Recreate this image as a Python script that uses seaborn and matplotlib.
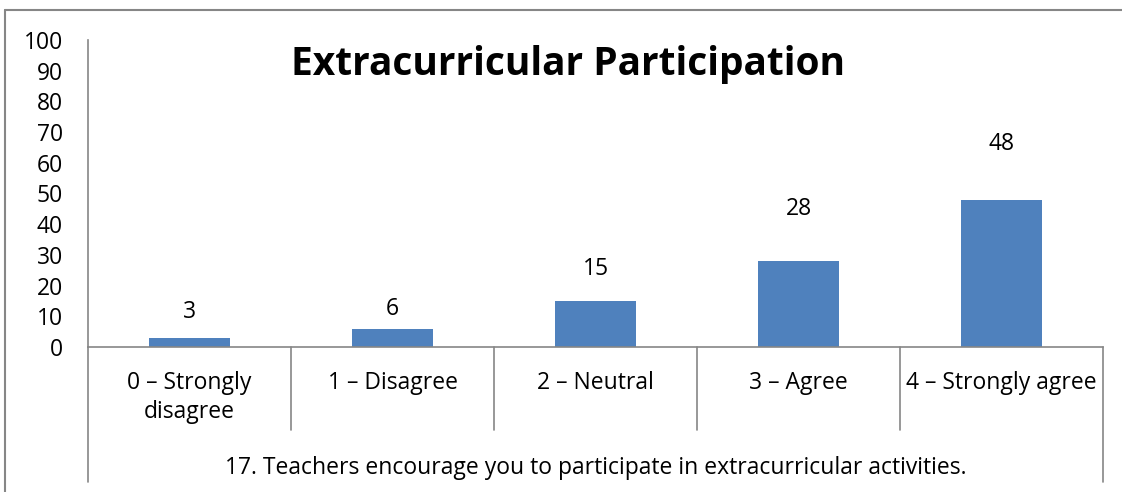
import matplotlib
matplotlib.use('Agg')
import matplotlib.pyplot as plt
import matplotlib.transforms as mtransforms
from matplotlib.lines import Line2D
import seaborn as sns
import pandas as pd

# chart data
categories = ["0 – Strongly\ndisagree", "1 – Disagree", "2 – Neutral", "3 – Agree", "4 – Strongly agree"]
counts = [3, 6, 15, 28, 48]
group_label = "17. Teachers encourage you to participate in extracurricular activities."
title = "Extracurricular Participation"
y_ticks = list(range(0, 101, 10))

sns.set_style("white")
plt.rcParams['font.family'] = ['Open Sans', 'DejaVu Sans']
plt.rcParams['text.color'] = 'black'

df = pd.DataFrame({'category': categories, 'count': counts})

fig = plt.figure(figsize=(11.22, 4.92), dpi=100)
ax = fig.add_axes([88 / 1122, 145 / 492, 1015 / 1122, 307 / 492])

sns.barplot(x='category', y='count', data=df, ax=ax, color='#4F81BD',
            width=0.4, saturation=1, edgecolor='none')

axis_grey = '#868686'
fs = 16.5
ax.set_xlim(-0.5, len(categories) - 0.5)
ax.set_ylim(0, 100)
ax.set_yticks(y_ticks)
ax.tick_params(axis='y', length=6, width=1, color=axis_grey, labelcolor='black',
               labelsize=fs, pad=12)
ax.tick_params(axis='x', length=0, labelsize=fs, labelcolor='black', pad=17)
for lbl in ax.get_xticklabels():
    lbl.set_linespacing(1.3)
ax.set_xlabel('')
ax.set_ylabel('')
for side in ['top', 'right']:
    ax.spines[side].set_visible(False)
for side in ['left', 'bottom']:
    ax.spines[side].set_color(axis_grey)
    ax.spines[side].set_linewidth(1.2)

# value labels (Excel put them a bit above the bars)
label_offsets = [8.5, 6.5, 10.5, 17, 18]
for i, v in enumerate(counts):
    ax.text(i, v + label_offsets[i], f"{v}", ha='center', va='center', fontsize=fs)

# category separators, inner ones short, outer ones long
trans = mtransforms.blended_transform_factory(ax.transData, ax.transAxes)
n = len(categories)
for k in range(n + 1):
    xb = k - 0.5
    y_end = -0.44 if k in (0, n) else -0.27
    ax.add_line(Line2D([xb, xb], [0, y_end], transform=trans, color=axis_grey,
                       linewidth=1.2, clip_on=False))

ax.text((n - 1) / 2, -0.395, group_label, transform=trans, ha='center', va='center', fontsize=fs)

ax.text(0.473, 0.92, title, transform=ax.transAxes, ha='center', va='center',
        fontsize=28, fontweight='bold')

# chart border
border = dict(color=axis_grey, linewidth=1.5)
fig.add_artist(Line2D([5 / 1122, 5 / 1122], [0, 482 / 492], transform=fig.transFigure, **border))
fig.add_artist(Line2D([5 / 1122, 1], [482 / 492, 482 / 492], transform=fig.transFigure, **border))

fig.savefig('out.png', dpi=100)
